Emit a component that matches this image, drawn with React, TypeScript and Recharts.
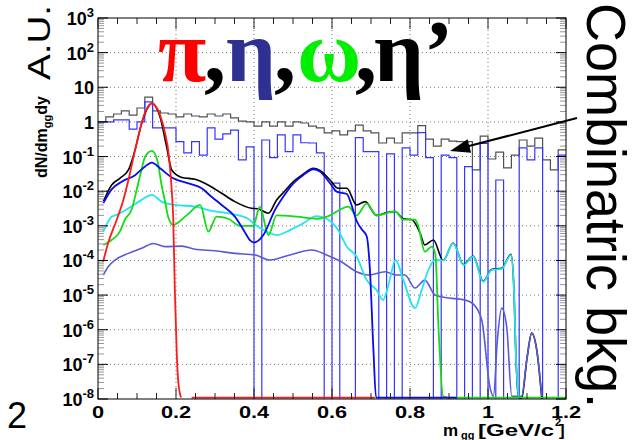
import React from 'react';
import { ComposedChart, Line, XAxis, YAxis, ReferenceLine } from 'recharts';

const W = 638;
const H = 440;
const PLOT = { left: 98, right: 566, top: 18, bottom: 399 };
const FONT = 'Liberation Sans, Arial, sans-serif';

const Y_MIN = 1e-8;
const Y_MAX = 1e3;
const EMPTY = 1e-10; // empty bins fall below the frame

// 0.02 GeV bins, 0..1.2
const BIN = 0.02;
const combinatoric = [
  1.0, 1.39, 1.69, 2.07, 1.58, 2.52, 5.2, 2.07, 1.81, 1.69,
  1.39, 1.69, 1.48, 1.39, 1.69, 1.48, 1.69, 1.3, 1.06, 1.0,
  0.76, 1.0, 0.76, 1.0, 0.76, 1.0, 0.93, 0.76, 0.67, 0.48,
  0.55, 0.42, 0.55, 0.81, 0.55, 0.48, 0.246, 0.34, 0.246, 0.48,
  0.48, 0.78, 0.32, 0.2, 0.32, 0.28, 0.27, 0.27, 0.041, 0.39,
  0.085, 0.135, 0.047, 0.11, 0.3, 0.2, 0.34, 0.08, 0.041, 0.155,
];
const blueHist = [
  1.0, 1.0, 1.14, 1.14, 0.62, 1.0, 3.8, 0.67, 0.67, 0.67,
  0.27, 0.127, 0.27, 0.11, 0.67, 0.32, 0.45, 0.58, 0.08, 0.19,
  0, 0.3, 0.093, 0.42, 0.138, 0.42, 0.25, 0.246, 0.127, 0,
  0.017, 0, 0, 0.35, 0.138, 0.138, 0, 0.119, 0, 0.177,
  0.11, 0.49, 0.093, 0, 0.11, 0.093, 0, 0.051, 0, 0.24,
  0, 0.021, 0, 0, 0.177, 0.08, 0.177, 0, 0, 0.11,
];

type Pt = [number, number | null];

const pi0: Pt[] = [
  [0.013, 9e-5], [0.026, 3.2e-4], [0.048, 1.5e-3], [0.065, 5.6e-3], [0.078, 0.021],
  [0.099, 0.24], [0.12, 1.8], [0.138, 3.4], [0.159, 1.6], [0.172, 0.47],
  [0.182, 0.1], [0.189, 0.011], [0.193, 1.5e-3], [0.197, 1.4e-5], [0.202, 2e-7],
  [0.206, 3e-8], [0.213, 1.1e-8], [0.225, null], [0.24, 1.1e-8], [0.71, 1.1e-8],
];

const eta: Pt[] = [
  [0.0136, 4.5e-3], [0.035, 0.0113], [0.061, 0.0188], [0.095, 0.029], [0.12, 0.051],
  [0.138, 0.067], [0.159, 0.046], [0.189, 0.025], [0.232, 0.0169], [0.266, 0.0121],
  [0.291, 6.9e-3], [0.317, 4e-3], [0.351, 1.84e-3], [0.375, 7e-4], [0.39, 3.8e-4],
  [0.401, 3.3e-4], [0.424, 5.4e-4], [0.454, 2.9e-3], [0.475, 6.9e-3], [0.501, 0.0169],
  [0.526, 0.029], [0.552, 0.043], [0.569, 0.037], [0.595, 0.0169], [0.612, 9.7e-3],
  [0.638, 8.3e-3], [0.65, 4e-3], [0.663, 1.4e-3], [0.676, 8e-4], [0.689, 5e-4],
  [0.697, 6e-5], [0.706, 3e-7], [0.713, 1.1e-8], [0.92, 1.1e-8],
];

const total: Pt[] = [
  [0.0136, 5e-3], [0.035, 0.0151], [0.056, 0.0235], [0.078, 0.041], [0.095, 0.155],
  [0.112, 0.91], [0.129, 2.75], [0.138, 3.45], [0.159, 1.4], [0.176, 0.19],
  [0.189, 0.041], [0.215, 0.025], [0.249, 0.022], [0.274, 0.0169], [0.317, 8.7e-3],
  [0.351, 5e-3], [0.394, 3.2e-3], [0.41, 3.1e-3], [0.437, 2.3e-3], [0.458, 5.6e-3],
  [0.475, 9e-3], [0.501, 0.019], [0.526, 0.031], [0.552, 0.046], [0.569, 0.04],
  [0.595, 0.021], [0.616, 0.0121], [0.638, 0.0121], [0.663, 4e-3], [0.685, 5e-3],
  [0.714, 2e-3], [0.74, 2.4e-3], [0.762, 2.6e-3], [0.783, 1.6e-3], [0.805, 1.5e-3],
  [0.826, 6.1e-4], [0.838, 2.8e-4], [0.86, 3.9e-4], [0.885, 1e-4], [0.911, 3.2e-4],
  [0.937, 7.6e-5], [0.962, 1.35e-4], [0.988, 2.5e-5], [1.009, 5.5e-5], [1.035, 5.9e-5],
  [1.059, 1.5e-4], [1.066, 2e-5], [1.072, 1.3e-7], [1.078, 1.2e-8], [1.086, 1e-8],
  [1.1, 1.5e-7], [1.112, 8e-7], [1.125, 2.6e-7], [1.138, 1e-8],
];

const omega: Pt[] = [
  [0.0136, 2.8e-4], [0.035, 3.9e-4], [0.056, 6.8e-4], [0.069, 1.5e-3], [0.086, 2.9e-3],
  [0.1, 0.012], [0.11, 0.035], [0.121, 0.1], [0.138, 0.145], [0.152, 0.08],
  [0.163, 0.015], [0.172, 5e-3], [0.18, 1.8e-3], [0.193, 1.06e-3], [0.227, 2e-3],
  [0.262, 4e-3], [0.283, 6.8e-4], [0.304, 1.84e-3], [0.334, 1.6e-3], [0.364, 1e-3],
  [0.398, 1e-3], [0.415, 3.6e-3], [0.437, 5.4e-4], [0.458, 2e-3], [0.51, 1.84e-3],
  [0.561, 1.6e-3], [0.595, 2e-3], [0.62, 2.9e-3], [0.642, 3.6e-3], [0.663, 2e-3],
  [0.689, 4.4e-3], [0.714, 2e-3], [0.762, 2.6e-3], [0.783, 1.5e-3], [0.813, 1.5e-3],
  [0.821, 9.9e-4], [0.838, 1.8e-4], [0.856, 2.5e-4], [0.865, 1.5e-4], [0.873, 1.2e-6],
  [0.885, 1.2e-8], [0.9, 1.1e-8], [1.2, 1.1e-8],
];

const etaPrime: Pt[] = [
  [0.0136, 6.8e-4], [0.035, 1.84e-3], [0.044, 2e-3], [0.078, 3.2e-3], [0.112, 5.6e-3],
  [0.138, 7.8e-3], [0.163, 5e-3], [0.197, 4e-3], [0.249, 3.6e-3], [0.291, 2.7e-3],
  [0.334, 2.3e-3], [0.385, 1.6e-3], [0.398, 1.18e-3], [0.433, 6.8e-4], [0.458, 5.4e-4],
  [0.492, 7.5e-4], [0.526, 1.18e-3], [0.561, 1.9e-3], [0.586, 1.6e-3], [0.616, 7.5e-4],
  [0.638, 2.5e-4], [0.663, 1.3e-4], [0.689, 2.7e-5], [0.714, 1.4e-5], [0.731, 7.2e-6],
  [0.745, 2e-5], [0.763, 1.03e-4], [0.783, 2.7e-5], [0.813, 4.2e-6], [0.83, 1.4e-5],
  [0.847, 5.3e-5], [0.864, 1.03e-4], [0.885, 1e-4], [0.911, 3.1e-4], [0.937, 7.4e-5],
  [0.962, 1.3e-4], [0.988, 2.4e-5], [1.009, 5.3e-5], [1.035, 5.7e-5], [1.059, 1.44e-4],
  [1.066, 2e-5], [1.072, 1.3e-7], [1.078, 1.2e-8],
];

const slate: Pt[] = [
  [0.0136, 3.8e-5], [0.026, 6.6e-5], [0.044, 1.03e-4], [0.078, 1.6e-4], [0.112, 2.25e-4],
  [0.142, 3.1e-4], [0.172, 2.5e-4], [0.215, 2.6e-4], [0.249, 2.1e-4], [0.3, 1.9e-4],
  [0.351, 1.6e-4], [0.403, 1.44e-4], [0.441, 1.03e-4], [0.492, 1.44e-4], [0.548, 2e-4],
  [0.586, 1.44e-4], [0.625, 9e-5], [0.663, 4.7e-5], [0.693, 3.8e-5], [0.736, 4.7e-5],
  [0.766, 3.8e-5], [0.787, 3.8e-5], [0.813, 1.6e-5], [0.838, 2.7e-5], [0.864, 1e-5],
  [0.89, 8.5e-6], [0.941, 7.2e-6], [0.962, 5.6e-6], [0.984, 1.9e-6], [1.005, 2.2e-8],
  [1.014, 1.2e-8], [1.024, 5e-7], [1.035, 4.2e-6], [1.048, 1.2e-6], [1.061, 1.2e-8],
  [1.086, 1.2e-8], [1.1, 1.5e-7], [1.112, 7.9e-7], [1.125, 2.6e-7], [1.138, 1.2e-8],
];

const xTicks = [
  0, 0.05, 0.1, 0.15, 0.2, 0.25, 0.3, 0.35, 0.4, 0.45, 0.5, 0.55, 0.6,
  0.65, 0.7, 0.75, 0.8, 0.85, 0.9, 0.95, 1, 1.05, 1.1, 1.15, 1.2,
];
const xGrid = [0.2, 0.4, 0.6, 0.8, 1.0];
const decades = [-8, -7, -6, -5, -4, -3, -2, -1, 0, 1, 2, 3];

const yTicks: number[] = [];
decades.forEach((e) => {
  yTicks.push(Math.pow(10, e));
  if (e < 3) for (let m = 2; m <= 9; m++) yTicks.push(m * Math.pow(10, e));
});

const toCurve = (pts: Pt[]) => pts.map(([x, y]) => ({ x, y }));
const toSteps = (bins: number[]) => [
  ...bins.map((v, i) => ({ x: +(i * BIN).toFixed(2), y: v > 0 ? v : EMPTY })),
  { x: +(bins.length * BIN).toFixed(2), y: bins[bins.length - 1] || EMPTY },
];

const XTick = (props: any) => {
  const { x, payload } = props;
  const v: number = payload.value;
  const major = Math.abs(v * 5 - Math.round(v * 5)) < 1e-6;
  const len = major ? 11 : 6;
  return (
    <g>
      <line x1={x} x2={x} y1={PLOT.bottom} y2={PLOT.bottom - len} stroke="#222" />
      <line x1={x} x2={x} y1={PLOT.top} y2={PLOT.top + len} stroke="#222" />
      {major && (
        <text
          transform={`translate(${x},${418}) scale(1.28,1)`}
          textAnchor="middle"
          fontFamily={FONT}
          fontWeight="bold"
          fontSize={17}
          fill="#000"
        >
          {String(parseFloat(v.toFixed(2)))}
        </text>
      )}
    </g>
  );
};

const YTick = (props: any) => {
  const { y, payload } = props;
  const v: number = payload.value;
  const lg = Math.log10(v);
  const e = Math.round(lg);
  const major = Math.abs(lg - e) < 1e-6;
  const len = major ? 10 : 6;
  const col = major ? '#000' : '#999';
  return (
    <g>
      <line x1={PLOT.left} x2={PLOT.left + len} y1={y} y2={y} stroke={col} />
      <line x1={PLOT.right} x2={PLOT.right - len} y1={y} y2={y} stroke={col} />
      {major && (
        <text x={94} y={y + 7} textAnchor="end" fontFamily={FONT} fontWeight="bold" fontSize={18} fill="#000">
          {e === 0 ? '1' : '10'}
          {e !== 0 && e !== 1 && (
            <tspan dy={-8} fontSize={13}>
              {String(e)}
            </tspan>
          )}
        </text>
      )}
    </g>
  );
};

const Decorations = () => (
  <svg width={W} height={H} style={{ position: 'absolute', left: 0, top: 0, pointerEvents: 'none' }}>
    <rect x={PLOT.left} y={PLOT.top} width={PLOT.right - PLOT.left} height={PLOT.bottom - PLOT.top} fill="none" stroke="#000" />
    <text transform="translate(50,80) rotate(-90)" fontFamily={FONT} fontSize={31} textLength={75} lengthAdjust="spacingAndGlyphs">
      A.U.
    </text>
    <text transform="translate(47,178) rotate(-90)" fontFamily={FONT} fontWeight="bold" fontSize={16}>
      dN/dm
      <tspan dy={4} fontSize={11}>gg</tspan>
      <tspan dy={-4}>dy</tspan>
    </text>
    <text y={81} fontFamily="Liberation Serif, Times New Roman, serif" fontWeight="bold" fontSize={88}>
      <tspan x={158} fill="#ff0000">π</tspan>
      <tspan x={204} fill="#000">,</tspan>
      <tspan x={226} fill="#2e3192">η</tspan>
      <tspan x={274} fill="#000">,</tspan>
      <tspan x={297} fill="#00ee00">ω</tspan>
      <tspan x={355} fill="#000">,</tspan>
      <tspan x={374} fill="#000">η’</tspan>
    </text>
    <text transform="translate(587,3) rotate(90)" fontFamily={FONT} fontSize={56} textLength={405} lengthAdjust="spacingAndGlyphs">
      Combinatric bkg.
    </text>
    <line x1={577} y1={118} x2={468} y2={146.3} stroke="#000" strokeWidth={2} />
    <polygon points="450,151 471.1,152.8 467.6,139.2" fill="#000" />
    <text x={7} y={428} fontFamily={FONT} fontSize={36}>2</text>
    <text y={436} fontFamily={FONT} fontWeight="bold" fontSize={17}>
      <tspan x={443}>m</tspan>
      <tspan x={461} dy={3} fontSize={11}>gg</tspan>
      <tspan x={478} dy={-3} textLength={76} lengthAdjust="spacingAndGlyphs">[GeV/c</tspan>
      <tspan x={555} dy={-10} fontSize={11}>2</tspan>
      <tspan x={559} dy={10}>]</tspan>
    </text>
  </svg>
);

const curves = [
  { name: 'total', pts: total, color: '#000000', w: 1.6 },
  { name: 'slate', pts: slate, color: '#5a5ad6', w: 1.6 },
  { name: 'etaPrime', pts: etaPrime, color: '#22e4f2', w: 1.8 },
  { name: 'omega', pts: omega, color: '#14dc14', w: 1.8 },
  { name: 'eta', pts: eta, color: '#0a0aee', w: 1.8 },
  { name: 'pi0', pts: pi0, color: '#ff1a1a', w: 1.8 },
];

export default function App() {
  return (
    <div style={{ position: 'absolute', left: 0, top: 0, width: W, height: H, background: '#fff' }}>
      <ComposedChart width={W} height={H} margin={{ top: PLOT.top, right: W - PLOT.right, bottom: 0, left: 0 }}>
        <XAxis
          type="number"
          dataKey="x"
          domain={[0, 1.2]}
          allowDataOverflow
          ticks={xTicks}
          interval={0}
          height={H - PLOT.bottom}
          axisLine={false}
          tickLine={false}
          tick={(p: any) => <XTick {...p} />}
        />
        <YAxis
          type="number"
          scale="log"
          domain={[Y_MIN, Y_MAX]}
          allowDataOverflow
          ticks={yTicks}
          interval={0}
          width={PLOT.left}
          axisLine={false}
          tickLine={false}
          tick={(p: any) => <YTick {...p} />}
        />
        {decades.slice(1, -1).map((e) => (
          <ReferenceLine key={`gy${e}`} y={Math.pow(10, e)} stroke="#777" strokeDasharray="1 3" />
        ))}
        {xGrid.map((v) => (
          <ReferenceLine key={`gx${v}`} x={v} stroke="#777" strokeDasharray="1 3" />
        ))}
        <Line data={toSteps(combinatoric)} dataKey="y" type="stepAfter" stroke="#505050" strokeWidth={1.2} dot={false} activeDot={false} isAnimationActive={false} />
        <Line data={toSteps(blueHist)} dataKey="y" type="stepAfter" stroke="#3535ff" strokeWidth={1.2} dot={false} activeDot={false} isAnimationActive={false} />
        {curves.map((c) => (
          <Line
            key={c.name}
            data={toCurve(c.pts)}
            dataKey="y"
            type="monotone"
            stroke={c.color}
            strokeWidth={c.w}
            dot={false}
            activeDot={false}
            isAnimationActive={false}
          />
        ))}
      </ComposedChart>
      <Decorations />
    </div>
  );
}
